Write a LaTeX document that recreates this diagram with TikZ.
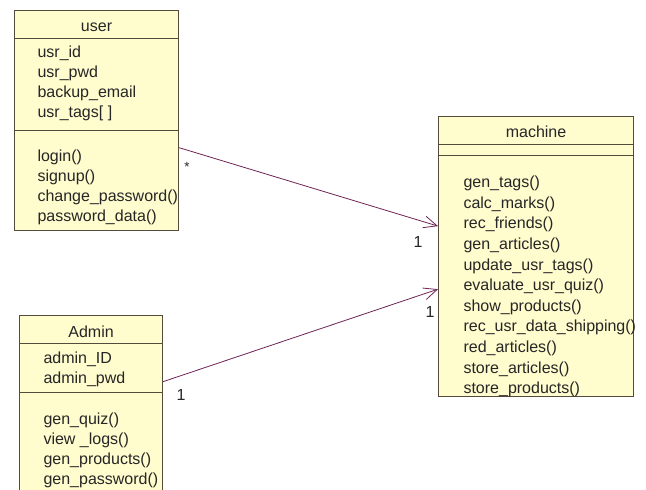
\documentclass[tikz,border=0pt]{standalone}
\usepackage{fontspec}
\setmainfont{Liberation Sans}
\usetikzlibrary{shapes,arrows.meta}
\definecolor{classfill}{RGB}{255,252,206}
\definecolor{classline}{RGB}{85,75,60}
\definecolor{assocline}{RGB}{110,35,85}
\newcommand{\umlpart}[5]{\parbox[c][#2][t]{#1}{\vspace*{#3}\raggedright\leftskip=#4\relax\strut#5}}

\begin{document}
\begin{tikzpicture}[x=0.75pt,y=-0.75pt]
    \tikzstyle{umlclass}=[rectangle split, rectangle split parts=3, draw=classline, fill=classfill, line width=0.8pt, inner sep=0pt, anchor=north west, font=\fontsize{12}{15}\selectfont, text=black!85]
    \tikzstyle{assoc}=[draw=assocline, line width=0.6pt, -{Straight Barb[length=10pt,width=9pt]}]
    \tikzstyle{mult}=[inner sep=0pt, font=\fontsize{12}{15}\selectfont, text=black!85]
    \useasboundingbox (0,0) rectangle (646,489);
    \node[umlclass] (user) at (14,10) {\umlpart{123pt}{20.25pt}{5pt}{0pt}{\centering user}%
      \nodepart{two}\umlpart{123pt}{68.25pt}{3pt}{17.25pt}{usr\_id\\ usr\_pwd\\ backup\_email\\ usr\_tags[\ ]}%
      \nodepart{three}\umlpart{123pt}{74.25pt}{12pt}{17.25pt}{login()\\ signup()\\ change\_password()\\ password\_data()}};
    \node[umlclass, font=\fontsize{12}{15.45}\selectfont] (machine) at (438,116) {\umlpart{146.25pt}{20.25pt}{4.2pt}{0pt}{\centering machine}%
      \nodepart{two}\umlpart{146.25pt}{7.5pt}{0pt}{0pt}{}%
      \nodepart{three}\umlpart{146.25pt}{180pt}{12.75pt}{18.75pt}{gen\_tags()\\ calc\_marks()\\ rec\_friends()\\ gen\_articles()\\ update\_usr\_tags()\\ evaluate\_usr\_quiz()\\ show\_products()\\ rec\_usr\_data\_shipping()\\ red\_articles()\\ store\_articles()\\ store\_products()}};
    \node[umlclass] (admin) at (19,315) {\umlpart{107.25pt}{20.25pt}{5.5pt}{0pt}{\centering Admin}%
      \nodepart{two}\umlpart{107.25pt}{36pt}{3.75pt}{18pt}{admin\_ID\\ admin\_pwd}%
      \nodepart{three}\umlpart{107.25pt}{78.75pt}{12.75pt}{18pt}{gen\_quiz()\\ view \_logs()\\ gen\_products()\\ gen\_password()}};
    % associations
    \draw[assoc] ([yshift=-12.75pt]user.two split east) -- ([yshift=22.9pt]machine.west);
    \draw[assoc] ([yshift=8.25pt]admin.two split east) -- ([yshift=-24.4pt]machine.west);
    \node[mult, font=\fontsize{10}{12}\selectfont] (usermany) at (187,167) {*};
    \node[mult] (machineone) at (418,242) {1};
    \node[mult] (machinetwo) at (430,312) {1};
    \node[mult] (adminone) at (181,395) {1};
\end{tikzpicture}
\end{document}
